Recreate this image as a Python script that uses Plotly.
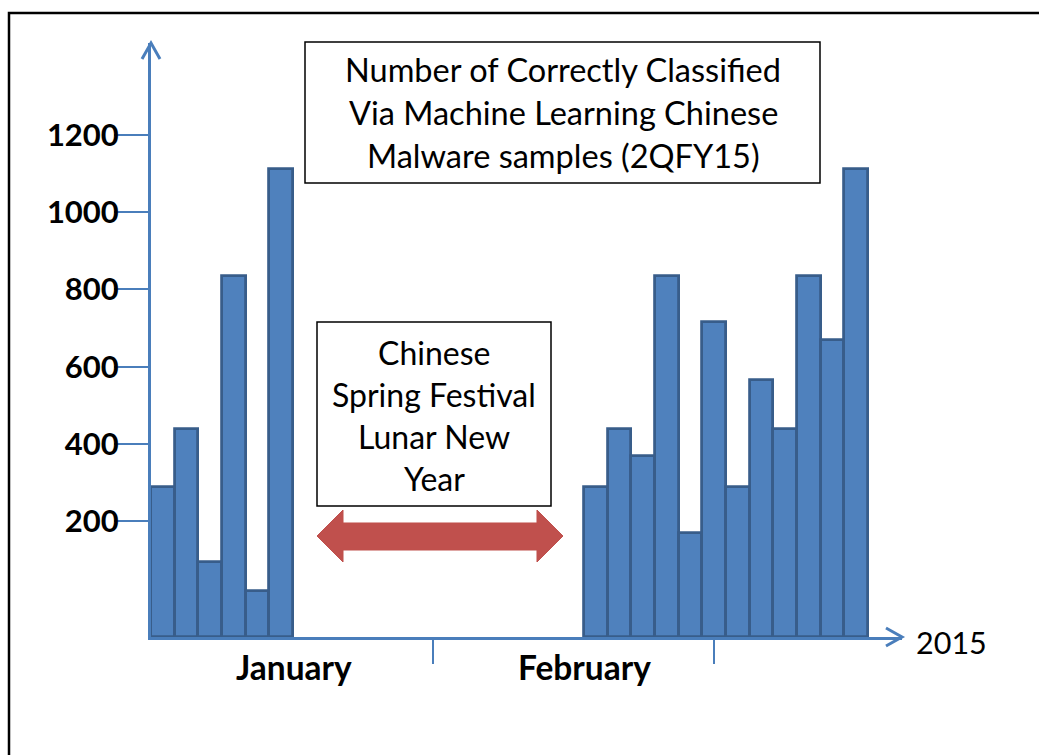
import plotly.graph_objects as go

# Daily counts of correctly classified samples, read per bar
jan_counts = [290, 440, 95, 835, 20, 1110]
feb_counts = [290, 440, 370, 835, 170, 715, 290, 565, 440, 835, 670, 1110]
month_names = ["January", "February"]
y_ticks = [200, 400, 600, 800, 1000, 1200]
title_lines = ["Number of Correctly Classified",
               "Via Machine Learning Chinese",
               "Malware samples (2QFY15)"]
holiday_lines = ["Chinese", "Spring Festival", "Lunar New", "Year"]
year_label = "2015"

# ---- layout geometry (pixels) ----
W, H = 1039, 755
L, R, T, B = 151, 137, 43, 118
PW, PH = W - L - R, H - T - B
SLOT = 23.65                       # one day slot in px
X_MAX = PW / SLOT
Y_FLOOR, Y_TOP = -99, 1437         # axis floor sits below zero
FEB_START = (584 - L) / SLOT       # gap for the holiday break
MONTH_EDGES = [(433 - L) / SLOT, (714 - L) / SLOT]
MONTH_CENTERS = [(294 - L) / SLOT, (584 - L) / SLOT]

BLUE = "#4A7EBB"
BAR_FILL = "#4F81BD"
BAR_EDGE = "#385D8A"
FONT = "Lato, 'Open Sans', sans-serif"


def px(xp):
    return (xp - L) / PW


def py(yp):
    return (T + PH - yp) / PH


jan_x = [i + 0.5 for i in range(len(jan_counts))]
feb_x = [FEB_START + i + 0.5 for i in range(len(feb_counts))]

fig = go.Figure()
for xs, vals, name in [(jan_x, jan_counts, month_names[0]),
                       (feb_x, feb_counts, month_names[1])]:
    fig.add_trace(go.Bar(
        x=xs, y=[v - Y_FLOOR for v in vals], base=Y_FLOOR, width=1,
        customdata=vals, name=name,
        hovertemplate="%{customdata}<extra>" + name + "</extra>",
        marker=dict(color=BAR_FILL, line=dict(color=BAR_EDGE, width=2.8)),
    ))

axis_common = dict(range=[0, X_MAX], showgrid=False, zeroline=False,
                   tickvals=MONTH_EDGES, showticklabels=False,
                   tickcolor=BLUE, tickwidth=1.5)
yaxis_common = dict(range=[Y_FLOOR, Y_TOP], showgrid=False, zeroline=False,
                    tickvals=y_ticks, tickcolor=BLUE, tickwidth=2)

fig.update_layout(
    width=W, height=H,
    margin=dict(l=L, r=R, t=T, b=B),
    paper_bgcolor="white", plot_bgcolor="white",
    showlegend=False, bargap=0,
    xaxis=dict(**axis_common, ticks="outside", ticklen=24,
               showline=True, linecolor=BLUE, linewidth=3,
               layer="below traces"),
    xaxis2=dict(**axis_common, ticks="inside", ticklen=22,
                overlaying="x", anchor="y", side="bottom",
                layer="below traces"),
    yaxis=dict(**yaxis_common, ticks="outside", ticklen=34,
               showline=True, linecolor=BLUE, linewidth=3,
               ticklabelstandoff=-11,
               tickfont=dict(family=FONT, size=31, color="black",
                             weight="bold")),
    yaxis2=dict(**yaxis_common, ticks="inside", ticklen=24,
                showticklabels=False, overlaying="y", anchor="x",
                side="left"),
)


def path(points, closed=False):
    s = "M " + " L ".join(f"{px(a):.5f},{py(b):.5f}" for a, b in points)
    return s + (" Z" if closed else "")


shapes = []
# outer frame: only the left and top sides fall inside the page
shapes.append(dict(type="path", xref="paper", yref="paper",
                   path=path([(9, 800), (9, 13), (1100, 13)]),
                   line=dict(color="black", width=2.5), layer="below"))
# title box
shapes.append(dict(type="rect", xref="paper", yref="paper",
                   x0=px(305), x1=px(820), y0=py(42), y1=py(183),
                   line=dict(color="black", width=1.5)))
# holiday box
shapes.append(dict(type="rect", xref="paper", yref="paper",
                   x0=px(317), x1=px(551), y0=py(322), y1=py(506),
                   line=dict(color="black", width=1.5)))
# axis arrow heads
shapes.append(dict(type="path", xref="paper", yref="paper",
                   path=path([(142, 59), (151, 43), (160, 59)]),
                   line=dict(color=BLUE, width=3)))
shapes.append(dict(type="path", xref="paper", yref="paper",
                   path=path([(886, 628), (902, 637), (886, 646)]),
                   line=dict(color=BLUE, width=3)))
# double-headed red arrow across the holiday gap
arrow = [(317, 536), (343, 510), (343, 523), (537, 523), (537, 510),
         (563, 536), (537, 562), (537, 550), (343, 550), (343, 562)]
shapes.append(dict(type="path", xref="paper", yref="paper",
                   path=path(arrow, closed=True),
                   fillcolor="#C0504D", line=dict(color="#C0504D", width=1)))
fig.update_layout(shapes=shapes)

ann = []
for i, line in enumerate(title_lines):
    ann.append(dict(xref="paper", yref="paper", x=px(563), y=py(70 + 42.5 * i),
                    text=line, showarrow=False, xanchor="center",
                    yanchor="middle",
                    font=dict(family=FONT, size=32.5, color="black")))
for i, line in enumerate(holiday_lines):
    ann.append(dict(xref="paper", yref="paper", x=px(434), y=py(352 + 42.2 * i),
                    text=line, showarrow=False, xanchor="center",
                    yanchor="middle",
                    font=dict(family=FONT, size=32, color="black")))
for xc, name in zip(MONTH_CENTERS, month_names):
    ann.append(dict(xref="x", yref="paper", x=xc, y=py(667), text=name,
                    showarrow=False, xanchor="center", yanchor="middle",
                    font=dict(family=FONT, size=33.5, color="black",
                              weight="bold")))
ann.append(dict(xref="paper", yref="paper", x=px(951), y=py(642),
                text=year_label, showarrow=False, xanchor="center",
                yanchor="middle",
                font=dict(family=FONT, size=30.5, color="black")))
fig.update_layout(annotations=ann)

fig.write_html("out.html")
